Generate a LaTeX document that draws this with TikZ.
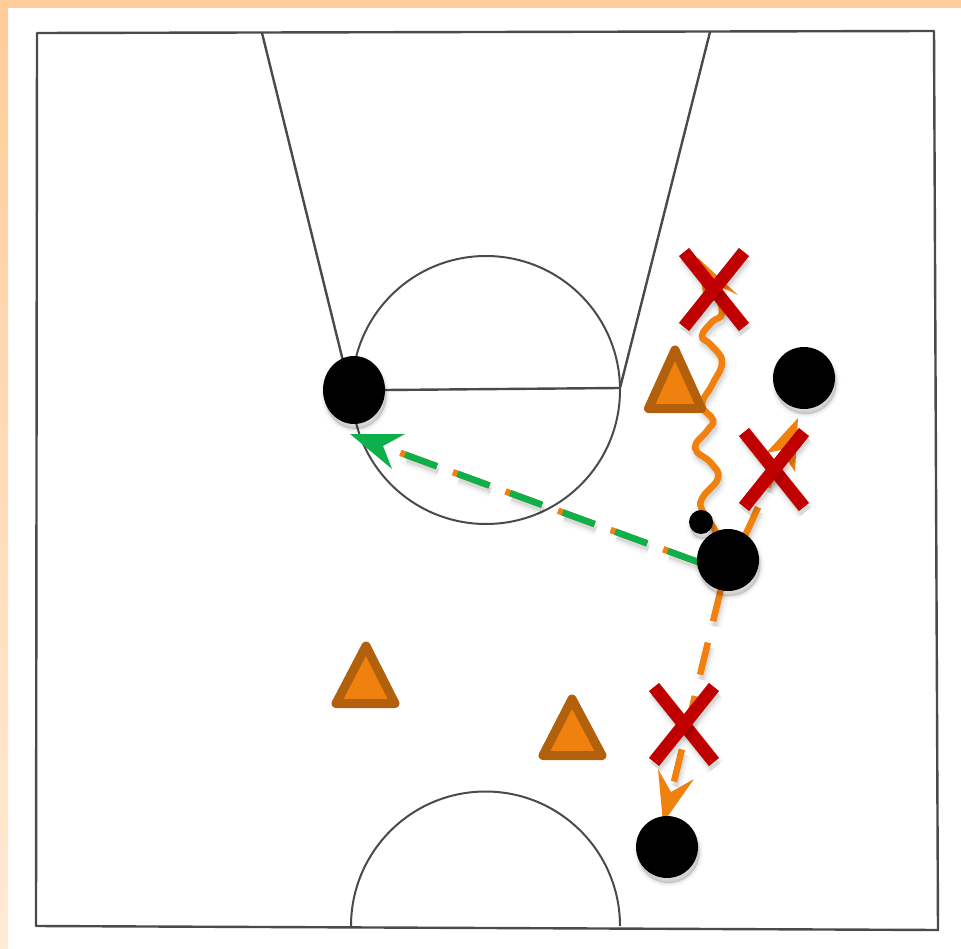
\documentclass[tikz,border=0pt]{standalone}
\usetikzlibrary{shapes.geometric}
\definecolor{orng}{HTML}{F0810F}
\definecolor{orngdk}{HTML}{B3600C}
\definecolor{grn}{HTML}{0DB04B}
\definecolor{redx}{HTML}{C00000}
\definecolor{peach}{HTML}{FFCC99}
\definecolor{courtline}{HTML}{4A4A4A}
\tikzset{
  x=1pt,y=-1pt,
  shadowdash/.style={},
  shadowstroke/.style n args={2}{shadowdash,draw=black,draw opacity=#2,line width=#1,fill=none,transform canvas={xshift=1.5pt,yshift=-5pt}},
  softline/.style={
    preaction={shadowstroke={#1+9pt}{.012}},
    preaction={shadowstroke={#1+6pt}{.02}},
    preaction={shadowstroke={#1+3pt}{.03}},
    preaction={shadowstroke={#1}{.04}},
    preaction={shadowstroke={#1-2pt}{.05}},
    line width=#1},
  softfill/.style={
    preaction={shadowstroke={8pt}{.02}},
    preaction={shadowstroke={5pt}{.035}},
    preaction={shadowstroke={2pt}{.05}},
    preaction={fill=black,fill opacity=.14,transform canvas={xshift=1.5pt,yshift=-5pt}}},
  courtstroke/.style={draw=courtline,line width=2.4pt,line join=round},
  player/.style={circle,fill=black,inner sep=0pt,minimum size=62pt,softfill},
  ballmark/.style={circle,fill=black,inner sep=0pt,minimum size=24pt,softfill},
  crossbar/.style={draw=redx,softline=13pt},
  cone/.style={draw=orngdk,fill=orng,line width=9pt,line join=round},
  orangeline/.style={draw=orng,softline=6.5pt},
  orangehead/.style={fill=orng},
  greenhead/.style={fill=grn},
  passdash/.style={shadowdash/.style={dash pattern=on 33pt off 22pt,dash phase=#1},dash pattern=on 33pt off 22pt,dash phase=#1},
  throwdash/.style={shadowdash/.style={dash pattern=on 34pt off 22pt,dash phase=26},dash pattern=on 39pt off 17pt,dash phase=26},
}
\newcommand{\crossmark}[2]{%
  \draw[crossbar] (#1-30,#2-37.5) -- (#1+30,#2+37.5);
  \draw[crossbar] (#1+30,#2-37.5) -- (#1-30,#2+37.5);}
\begin{document}
\begin{tikzpicture}
\useasboundingbox (0,0) rectangle (961,949);
\fill[white] (0,0) rectangle (961,949);
\shade[top color=peach,bottom color=peach!40!white] (0,0) rectangle (8,949);
\fill[peach] (0,0) rectangle (961,8);

% court
\draw[courtstroke] (37,33) -- (934,31) -- (938,930) -- (36,926) -- cycle;
\draw[courtstroke] (262,33) -- (344,365);
\draw[courtstroke] (710,32) -- (620,388);
\draw[courtstroke] (385,390) -- (620,388);
\draw[courtstroke,line width=2pt] (486,390) circle[radius=134];
\draw[courtstroke,line width=2pt] (351,926) arc[start angle=180,end angle=360,radius=134.5];

% free line ends
\coordinate (pStart) at (728,573);
\coordinate (passEnd) at (398,452);
\coordinate (wavy) at (716,290);
\coordinate (runEnd) at (782,455);
\coordinate (dribEnd) at (672,790);
\path (728,560) coordinate (p3c);

% wavy run
\draw[orangeline,line cap=round] plot[smooth,tension=.75] coordinates {
  (p3c) (716,532) (702,510) (703,497) (718,478) (711,463) (695,448) (707,431) (713,420) (702,405)
  (712,385) (722,362) (711,345) (702,336) (712,322) (722,313) (wavy)};
\fill[orangehead] (698,258) -- (738,295) -- (715,284) -- (703,294) -- cycle;

% cones
\draw[cone] (675,350) -- (701.5,408.5) -- (648.5,408.5) -- cycle;
\draw[cone] (366,646) -- (395,703.5) -- (336,703.5) -- cycle;
\draw[cone] (572,699) -- (602,755.5) -- (543,755.5) -- cycle;

% orange dashed runs
\draw[orangeline,passdash=30] ([xshift=6pt]p3c) -- (runEnd);
\fill[orangehead] (798,418) -- (795,472) -- (781,450) -- (766,453) -- cycle;
\draw[orangeline,passdash=25] (p3c) -- (dribEnd);
\fill[orangehead] (663,823) -- (658,769) -- (671,792) -- (694,779) -- cycle;

% pass
\draw[orangeline,throwdash] (pStart) -- (passEnd);
\draw[draw=grn,line width=6.5pt,dash pattern=on 34pt off 22pt,dash phase=26] (pStart) -- (passEnd);
\fill[greenhead] (350,434) -- (405,434) -- (383,446) -- (392,469) -- cycle;

% players
\node[player,shape=ellipse,minimum width=62pt,minimum height=68pt] (p1) at (354,390) {};
\node[player] (p2) at (804,378) {};
\node[ballmark] (ball) at (701,522) {};
\node[player] (p3) at (p3c) {};
\node[player] (p4) at (667,847) {};

% crosses
\crossmark{714}{289.5}
\crossmark{774}{469.5}
\crossmark{684}{724.5}
\end{tikzpicture}
\end{document}
